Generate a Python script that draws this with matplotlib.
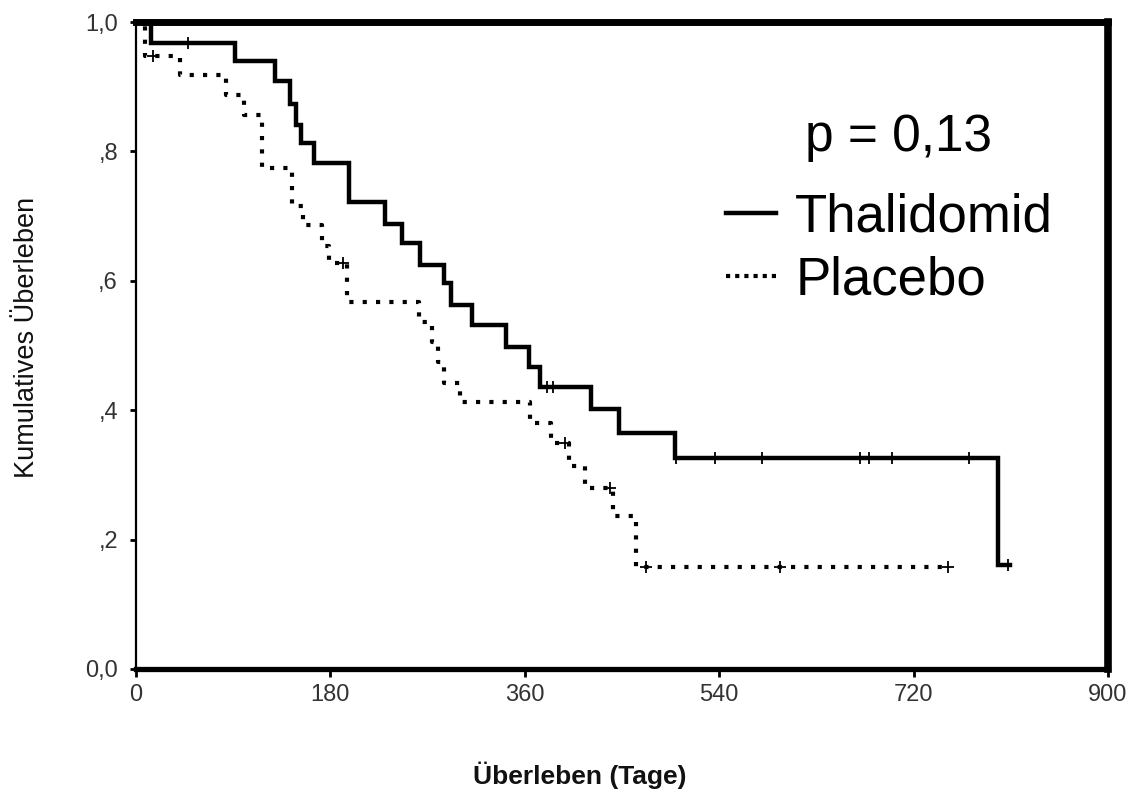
import matplotlib
matplotlib.use("Agg")
import matplotlib.pyplot as plt
from matplotlib.lines import Line2D

# ---- data ----
thal_days = [0, 14, 92, 129, 143, 148, 153, 165, 197, 231, 246, 263, 285, 292, 311, 343, 364, 374, 421, 447, 499, 798]
thal_surv = [1.0, 0.968, 0.939, 0.909, 0.874, 0.841, 0.813, 0.782, 0.722, 0.688, 0.658, 0.624, 0.597, 0.563, 0.532, 0.498, 0.467, 0.436, 0.402, 0.365, 0.326, 0.161]
thal_end = 809
thal_censor = [48, 381, 386, 500, 536, 580, 670, 679, 700, 771, 807]

plac_days = [0, 8, 41, 83, 100, 117, 144, 155, 172, 179, 195, 262, 274, 280, 285, 300, 365, 384, 401, 416, 442, 463]
plac_surv = [1.0, 0.947, 0.918, 0.887, 0.856, 0.774, 0.716, 0.686, 0.654, 0.627, 0.567, 0.537, 0.506, 0.475, 0.442, 0.413, 0.380, 0.349, 0.313, 0.280, 0.236, 0.158]
plac_end = 752
plac_censor = [16, 192, 397, 439, 472, 596, 752]

x_ticks = [0, 180, 360, 540, 720, 900]
y_ticks = [0.0, 0.2, 0.4, 0.6, 0.8, 1.0]
y_ticklabels = ["0,0", ",2", ",4", ",6", ",8", "1,0"]

series_labels = ["Thalidomid", "Placebo"]
p_text = "p = 0,13"
xlabel = "Überleben (Tage)"
ylabel = "Kumulatives Überleben"

plt.rcParams['font.family'] = ['Liberation Sans', 'DejaVu Sans']

W, H = 1137, 796
fig = plt.figure(figsize=(W / 100, H / 100), dpi=100)
ax = fig.add_axes([136 / W, 1 - 669 / H, (1108 - 136) / W, (669 - 22) / H])


def surv_at(days, surv, t):
    v = surv[0]
    for d, s in zip(days, surv):
        if d <= t:
            v = s
    return v


# Thalidomid (solid)
tx = thal_days + [thal_end]
ty = thal_surv + [thal_surv[-1]]
ax.step(tx, ty, where='post', color='black', lw=3.2, solid_joinstyle='miter', zorder=3)
ax.plot(thal_censor, [surv_at(thal_days, thal_surv, t) for t in thal_censor],
        ls='none', marker='|', ms=9, mew=1.3, color='black', zorder=4)

# Placebo (dotted)
px = plac_days + [plac_end]
py = plac_surv + [plac_surv[-1]]
ax.step(px, py, where='post', color='black', lw=3.0, ls=(0, (1, 2.2)),
        dash_capstyle='butt', zorder=3)
ax.plot(plac_censor, [surv_at(plac_days, plac_surv, t) for t in plac_censor],
        ls='none', marker='+', ms=9, mew=1.3, color='black', zorder=4)

ax.set_xlim(0, 900)
ax.set_ylim(0, 1.0)
ax.set_xticks(x_ticks)
ax.set_xticklabels([str(v) for v in x_ticks])
ax.set_yticks(y_ticks)
ax.set_yticklabels(y_ticklabels)

for lab in ax.get_xticklabels() + ax.get_yticklabels():
    lab.set_fontsize(17)
    lab.set_color('#333333')

ax.tick_params(axis='x', direction='out', length=6, width=2, pad=5)
ax.tick_params(axis='y', direction='out', length=4, width=2, pad=9)

ax.spines['left'].set_linewidth(1.6)
ax.spines['top'].set_linewidth(5)
ax.spines['right'].set_linewidth(5.5)
ax.spines['bottom'].set_linewidth(3.8)
for s in ax.spines.values():
    s.set_capstyle('projecting')

fig.text(580 / W, 1 - 775 / H, xlabel, ha='center', va='center', fontsize=19,
         fontweight='bold', color='#111111')
fig.text(27 / W, 1 - 337 / H, ylabel, ha='center', va='center', rotation=90,
         fontsize=19.5, color='#111111')

fig.text(805 / W, 1 - 137 / H, p_text, ha='left', va='center', fontsize=37)

handles = [Line2D([], [], color='black', lw=3.2),
           Line2D([], [], color='black', lw=3.0, ls=(0, (1, 1.2)), dash_capstyle='butt')]
ax.legend(handles, series_labels, loc='upper left',
          bbox_to_anchor=(726 / W, 1 - 192 / H), bbox_transform=fig.transFigure,
          frameon=False, fontsize=38, handlelength=0.95, handletextpad=0.36,
          labelspacing=0.25, borderpad=0, borderaxespad=0)

fig.savefig('out.png', dpi=100)
